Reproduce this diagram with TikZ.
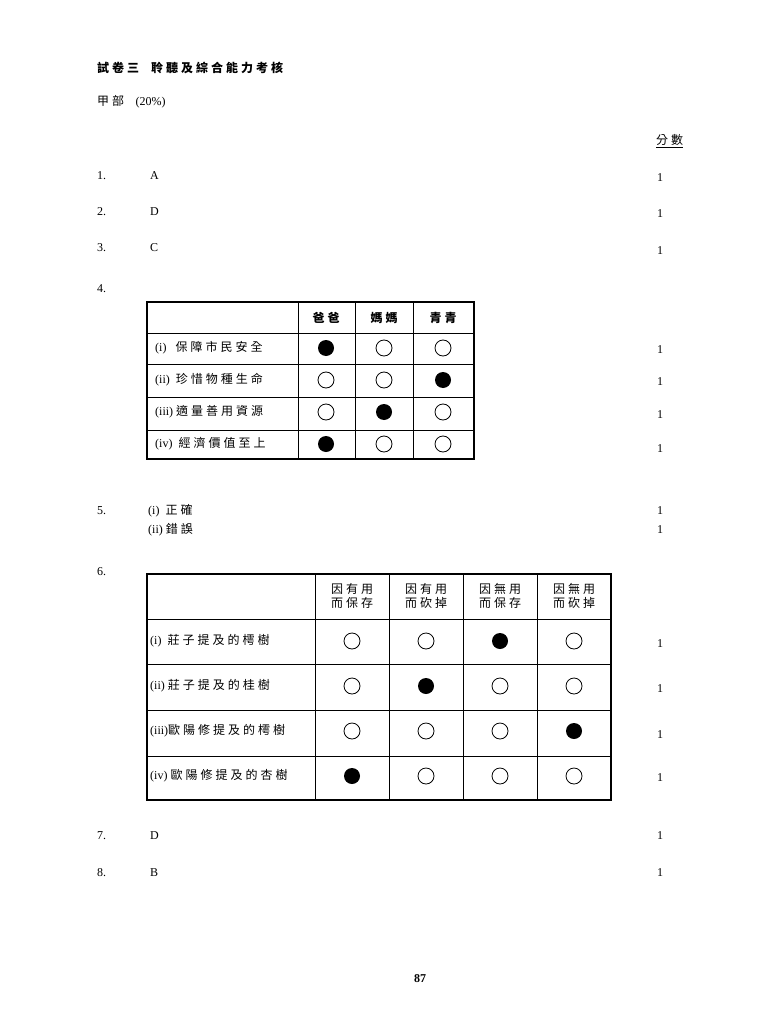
\documentclass[tikz,border=0pt]{standalone}
\usepackage{fontspec}
\setmainfont{Liberation Serif}
\newfontfamily\cjk[LetterSpace=25]{Noto Sans CJK TC}
\usetikzlibrary{positioning}
\tikzset{
  txt/.style={anchor=west, inner sep=0pt, font=\fontsize{12}{14}\selectfont},
  cj/.style={anchor=west, inner sep=0pt, font=\cjk\fontsize{12}{14}\selectfont},
  pts/.style={anchor=west, inner sep=0pt, font=\fontsize{12}{14}\selectfont},
  ring/.style={circle, draw, line width=0.8pt, minimum size=16pt, inner sep=0pt},
  dot/.style={circle, fill, minimum size=16pt, inner sep=0pt},
  grid/.style={line width=1pt},
  frame/.style={line width=2pt}
}
\begin{document}
\begin{tikzpicture}[x=1pt,y=-1pt]
    \useasboundingbox (0,0) rectangle (768,1024);

    % heading
    \node[cj, font=\cjk\fontsize{12}{14}\selectfont\bfseries] (title) at (97,68) {試卷三\quad 聆聽及綜合能力考核};
    \node[cj] (part) at (97,102) {甲部\ \ \textrm{(20\%)}};
    \node[cj] (score) at (656,141) {\underline{分數}};

    % short answers
    \node[txt] (n1) at (97,176) {1.};  \node[txt] (a1) at (150,176) {A};  \node[pts] (m1) at (657,178) {1};
    \node[txt] (n2) at (97,212) {2.};  \node[txt] (a2) at (150,212) {D};  \node[pts] (m2) at (657,214) {1};
    \node[txt] (n3) at (97,248) {3.};  \node[txt] (a3) at (150,248) {C};  \node[pts] (m3) at (657,251) {1};
    \node[txt] (n4) at (97,289) {4.};

    % table 4
    \draw[frame] (147,302) rectangle (474,459);
    \foreach \x in {298,355,413} \draw[grid] (\x,302) -- (\x,459);
    \foreach \y in {333,364,397,430} \draw[grid] (147,\y) -- (474,\y);
    \node[cj, font=\cjk\fontsize{12}{14}\selectfont\bfseries, anchor=center] (hA) at (326,318) {爸爸};
    \node[cj, font=\cjk\fontsize{12}{14}\selectfont\bfseries, anchor=center] (hB) at (384,318) {媽媽};
    \node[cj, font=\cjk\fontsize{12}{14}\selectfont\bfseries, anchor=center] (hC) at (443,318) {青青};
    \foreach \y/\lab/\f/\m in {
        348/{(i)\ \ \ {\cjk 保障市民安全}}/1/350,
        380/{(ii)\ \ {\cjk 珍惜物種生命}}/3/382,
        412/{(iii)\ {\cjk 適量善用資源}}/2/415,
        444/{(iv)\ \ {\cjk 經濟價值至上}}/1/449} {
      \node[txt] (r\y) at (155,\y) {\lab};
      \foreach \c/\x in {1/326,2/384,3/443} {
        \ifnum\c=\f \node[dot] (c\y\c) at (\x,\y) {};
        \else \node[ring] (c\y\c) at (\x,\y) {}; \fi
      }
      \node[pts] (m\y) at (657,\m) {1};
    }

    % question 5
    \node[txt] (n5) at (97,511) {5.};
    \node[txt] (a5a) at (148,511) {(i)\ \ {\cjk 正確}};
    \node[txt] (a5b) at (148,530) {(ii)\ {\cjk 錯誤}};
    \node[pts] (m5a) at (657,511) {1};
    \node[pts] (m5b) at (657,530) {1};
    \node[txt] (n6) at (97,572) {6.};

    % table 6
    \draw[frame] (147,574) rectangle (611,800);
    \foreach \x in {315,389,463,537} \draw[grid] (\x,574) -- (\x,800);
    \foreach \y in {619,664,710,756} \draw[grid] (147,\y) -- (611,\y);
    \foreach \x/\a/\b in {352/因有用/而保存, 426/因有用/而砍掉, 500/因無用/而保存, 574/因無用/而砍掉}
      \node[cj, anchor=center, align=center, inner sep=0pt] (h\x) at (\x,596) {\a\\[0pt]\b};
    \foreach \y/\lab/\f/\m in {
        641/{(i)\ \ {\cjk 莊子提及的樗樹}}/3/644,
        686/{(ii)\ {\cjk 莊子提及的桂樹}}/2/689,
        731/{(iii){\cjk 歐陽修提及的樗樹}}/4/735,
        776/{(iv)\ {\cjk 歐陽修提及的杏樹}}/1/778} {
      \node[txt] (s\y) at (150,\y) {\lab};
      \foreach \c/\x in {1/352,2/426,3/500,4/574} {
        \ifnum\c=\f \node[dot] (d\y\c) at (\x,\y) {};
        \else \node[ring] (d\y\c) at (\x,\y) {}; \fi
      }
      \node[pts] (k\y) at (657,\m) {1};
    }

    % last answers
    \node[txt] (n7) at (97,836) {7.};  \node[txt] (a7) at (150,836) {D};  \node[pts] (m7) at (657,836) {1};
    \node[txt] (n8) at (97,873) {8.};  \node[txt] (a8) at (150,873) {B};  \node[pts] (m8) at (657,873) {1};

    \node[txt, font=\fontsize{12}{14}\selectfont\bfseries, anchor=center] (page) at (420,979) {87};
  \end{tikzpicture}
\end{document}
